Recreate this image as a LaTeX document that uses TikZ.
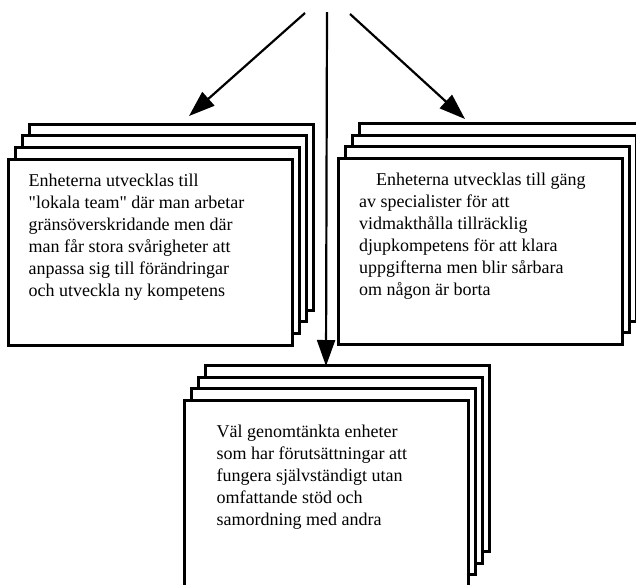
\documentclass[tikz,border=0pt]{standalone}
\usepackage{fontspec}
\setmainfont{Liberation Serif}
\newfontfamily\plainquote{Liberation Serif}
\usetikzlibrary{positioning,arrows.meta,shadows}
\tikzset{
  flowarrow/.style={-{Triangle[length=26pt,width=18pt]}, line width=2.2pt},
  stackbox/.style={draw, line width=3pt, fill=white, minimum width=284pt, minimum height=186pt, inner sep=0pt,
    copy shadow={shadow xshift=21pt, shadow yshift=35pt, line width=3pt},
    copy shadow={shadow xshift=14pt, shadow yshift=23.3pt, line width=3pt},
    copy shadow={shadow xshift=7pt, shadow yshift=11.7pt, line width=3pt}},
  boxtext/.style={align=left, inner sep=0pt, font=\fontsize{18}{22}\selectfont}
}
\newcommand{\qt}{{\plainquote"}}
\begin{document}
\begin{tikzpicture}[x=1pt, y=-1pt]
  \useasboundingbox (0,0) rectangle (636,584);
  \clip (0,0) rectangle (636,584);
  % the three stacks of units
  \node[stackbox] (lunit) at (150,252) {};
  \node[stackbox] (runit) at (480.5,251.5) {};
  \node[stackbox] (cunit) at (326,493.5) {};
  \node[boxtext, below right=16pt and 22pt of lunit.north west] (ltext)
    {Enheterna utvecklas till\\ \qt lokala team\qt{} där man arbetar\\ gränsöverskridande men där\\
     man får stora svårigheter att\\ anpassa sig till förändringar\\ och utveckla ny kompetens};
  \node[boxtext, below right=16pt and 22pt of runit.north west] (rtext)
    {\hspace*{17pt}Enheterna utvecklas till gäng\\ av specialister för att\\ vidmakthålla tillräcklig\\
     djupkompetens för att klara\\ uppgifterna men blir sårbara\\ om någon är borta};
  \node[boxtext, below right=26pt and 34pt of cunit.north west] (ctext)
    {Väl genomtänkta enheter\\ som har förutsättningar att\\ fungera självständigt utan\\
     omfattande stöd och\\ samordning med andra};
  % arrows from the top
  \coordinate (lstart) at (305,13);
  \coordinate (cstart) at (327,12);
  \coordinate (rstart) at (350,14);
  \coordinate (lend) at (189,116);
  \coordinate (cend) at (326,366);
  \coordinate (rend) at (465,119);
  \draw[flowarrow] (lstart) -- (lend);
  \draw[flowarrow] (cstart) -- (cend);
  \draw[flowarrow] (rstart) -- (rend);
\end{tikzpicture}
\end{document}
